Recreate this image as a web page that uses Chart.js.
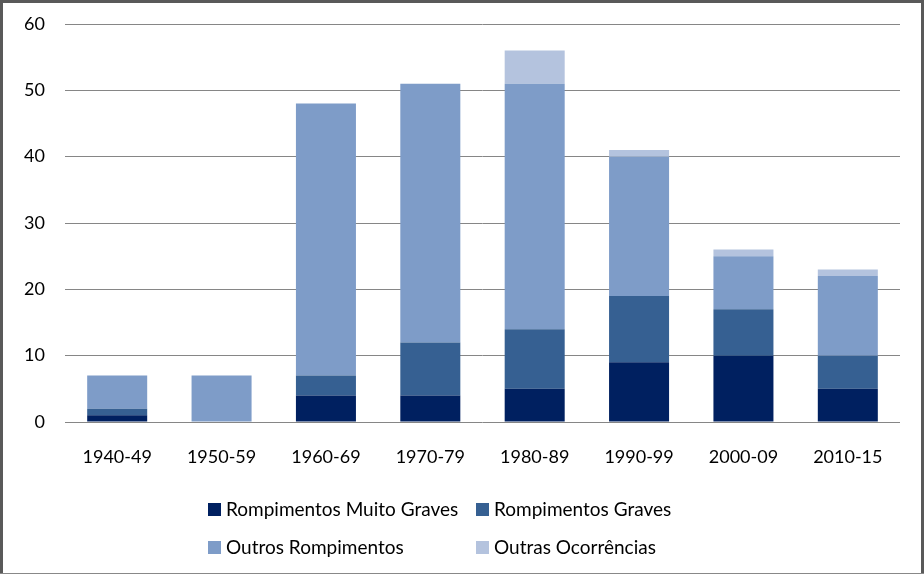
<!DOCTYPE html>
<html>
<head>
<meta charset="utf-8">
<script src="https://cdn.jsdelivr.net/npm/chart.js@4"></script>
<style>
  html, body { margin: 0; padding: 0; background: #fff; }
  canvas { display: block; }
</style>
</head>
<body>
<canvas id="chart" width="924" height="574"></canvas>
<script>
// Dados
const decadas = ['1940-49', '1950-59', '1960-69', '1970-79', '1980-89', '1990-99', '2000-09', '2010-15'];
const muitoGraves = [1, 0, 4, 4, 5, 9, 10, 5];
const graves = [1, 0, 3, 8, 9, 10, 7, 5];
const outrosRompimentos = [5, 7, 41, 39, 37, 21, 8, 12];
const outrasOcorrencias = [0, 0, 0, 0, 5, 1, 1, 1];

const FONT = 'Lato, "Open Sans", sans-serif';

// Legenda em grade 2x2, como no original
const gridLegend = {
    id: 'gridLegend',
    afterDraw(chart) {
        const ctx = chart.ctx;
        const cols = [208, 476];
        const rows = [509, 547];
        ctx.save();
        chart.data.datasets.forEach(function(ds, i) {
            const x = cols[i % 2];
            const y = rows[Math.floor(i / 2)];
            ctx.fillStyle = ds.backgroundColor;
            ctx.fillRect(x, y - 6, 13, 13);
            ctx.fillStyle = '#000';
            ctx.font = '19px ' + FONT;
            ctx.textBaseline = 'middle';
            ctx.textAlign = 'left';
            ctx.fillText(ds.label, x + 18, y + 1);
        });
        // Moldura externa
        ctx.fillStyle = '#595959';
        ctx.fillRect(0, 0, chart.width, 3);
        ctx.fillRect(0, 0, 3, chart.height);
        ctx.fillRect(chart.width - 3, 0, 3, chart.height);
        ctx.fillStyle = '#888';
        ctx.fillRect(0, chart.height - 1, chart.width, 1);
        ctx.restore();
    }
};

new Chart(document.getElementById('chart'), {
    type: 'bar',
    data: {
        labels: decadas,
        datasets: [
            { label: 'Rompimentos Muito Graves', data: muitoGraves, backgroundColor: '#002060' },
            { label: 'Rompimentos Graves', data: graves, backgroundColor: '#366092' },
            { label: 'Outros Rompimentos', data: outrosRompimentos, backgroundColor: '#7e9cc8' },
            { label: 'Outras Ocorrências', data: outrasOcorrencias, backgroundColor: '#b4c3de' }
        ]
    },
    options: {
        responsive: false,
        animation: false,
        devicePixelRatio: 1,
        layout: { padding: { top: 24, right: 24, bottom: 102, left: 0 } },
        datasets: {
            bar: { barPercentage: 0.575, categoryPercentage: 1 }
        },
        plugins: {
            legend: { display: false },
            tooltip: { enabled: false }
        },
        scales: {
            x: {
                stacked: true,
                grid: { display: false, drawTicks: false },
                border: { display: false },
                ticks: { color: '#000', font: { family: FONT, size: 18 }, padding: 24 },
                afterFit: function(scale) { scale.height = 50; }
            },
            y: {
                stacked: true,
                min: 0,
                max: 60,
                ticks: { stepSize: 10, color: '#000', font: { family: FONT, size: 18 }, padding: 20 },
                grid: { color: '#868686', drawTicks: false },
                border: { display: false },
                afterFit: function(scale) {
                    scale.width = 65;
                    scale.paddingTop = 0;
                    scale.paddingBottom = 0;
                }
            }
        }
    },
    plugins: [gridLegend]
});
</script>
</body>
</html>
